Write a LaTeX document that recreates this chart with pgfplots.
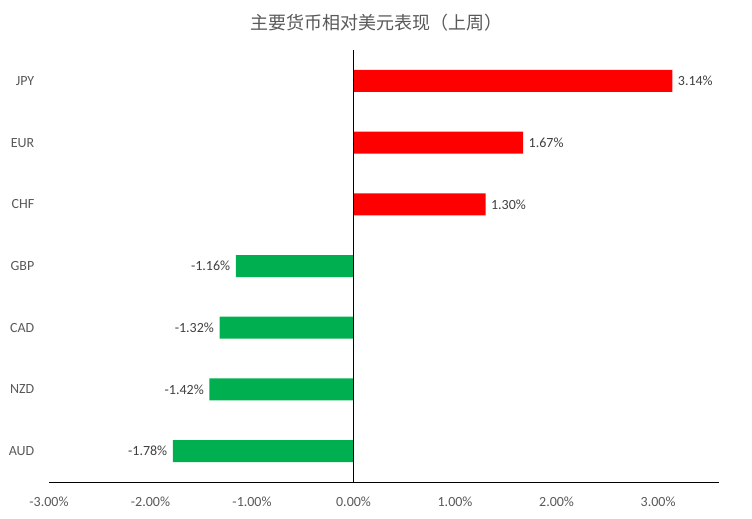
\documentclass[border=0pt]{standalone}
\usepackage{pgfplots}
\pgfplotsset{compat=1.18}
\usepackage{fontspec}
\setmainfont{Carlito}
\newfontfamily\cjk{Noto Sans CJK SC}
\definecolor{upred}{HTML}{FF0000}
\definecolor{downgreen}{HTML}{00B050}
\definecolor{lbl}{HTML}{595959}
\definecolor{val}{HTML}{404040}

\begin{document}
\begin{tikzpicture}
% canvas: 752 x 518 px at 0.75pt per px
\useasboundingbox (-36.75pt,-27pt) rectangle (527.25pt,361.5pt);
\begin{axis}[
    scale only axis,
    width=502.5pt, height=324pt,
    xbar, bar width=16.5pt, bar shift=0pt,
    xmin=-3, xmax=3.6, ymin=-0.5, ymax=6.5,
    clip=false,
    axis x line*=bottom, axis y line*=left,
    x axis line style={-, black, line width=0.75pt},
    y axis line style={draw=none},
    major tick length=0pt,
    xtick={-3,-2,-1,0,1,2,3},
    /pgf/number format/assume math mode=true,
    xticklabel={\pgfmathprintnumber[fixed,fixed zerofill,precision=2]{\tick}\%},
    xticklabel style={font=\fontsize{10.5}{12}\selectfont, text=lbl, yshift=-8pt},
    ytick={0,...,6},
    yticklabels={AUD,NZD,CAD,GBP,CHF,EUR,JPY},
    yticklabel style={font=\fontsize{10.5}{12}\selectfont, text=lbl, xshift=-7.5pt},
    point meta=x,
    nodes near coords={\pgfmathprintnumber[fixed,fixed zerofill,precision=2]{\pgfplotspointmeta}\%},
    nodes near coords align=horizontal,
    every node near coord/.append style={font=\fontsize{10.5}{12}\selectfont, text=val, inner xsep=4pt},
  ]
  \addplot[fill=upred, draw=none] coordinates {(3.14,6) (1.67,5) (1.30,4)};
  \addplot[fill=downgreen, draw=none] coordinates {(-1.16,3) (-1.32,2) (-1.42,1) (-1.78,0)};
  \draw[black, line width=0.75pt] (0,-0.5) -- (0,6.5);
\end{axis}
\node[font=\cjk\fontsize{13.5}{16}\selectfont, text=lbl] at (245.25pt,344.25pt) {主要货币相对美元表现（上周）};
\end{tikzpicture}
\end{document}
